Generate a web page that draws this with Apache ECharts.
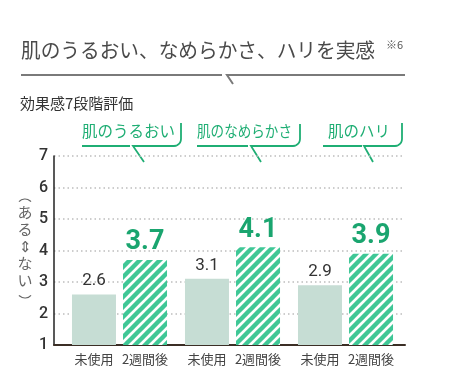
<!DOCTYPE html>
<html><head><meta charset="utf-8">
<script src="https://cdn.jsdelivr.net/npm/echarts@6/dist/echarts.min.js"></script>
<style>html,body{margin:0;padding:0;background:#fff}#c{width:450px;height:374px}</style>
</head><body><div id="c"></div>
<script>
const groups = ['肌のうるおい', '肌のなめらかさ', '肌のハリ'];
const periodLabels = ['未使用', '2週間後'];
const beforeValues = [2.6, 3.1, 2.9];
const afterValues = [3.7, 4.1, 3.9];
const yTicks = [1, 2, 3, 4, 5, 6, 7];
const titleText = '肌のうるおい、なめらかさ、ハリを実感';
const noteText = '※6';
const subtitleText = '効果感7段階評価';
const yNameChars = ['あ', 'る', '⇕', 'な', 'い'];

const JP = '"Noto Sans CJK JP", "Noto Sans", sans-serif';
const NUM = 'Roboto, "Noto Sans", sans-serif';
const GREEN = '#1fae74';
const STRIPE = '#3fc796';

// hatch pattern
const s = 10;
const tile = document.createElement('canvas');
tile.width = s; tile.height = s;
const tc = tile.getContext('2d');
tc.fillStyle = '#fff'; tc.fillRect(0, 0, s, s);
tc.strokeStyle = STRIPE; tc.lineWidth = 4.4; tc.lineCap = 'square';
[[-2, 2, 2, -2], [0, s, s, 0], [s - 2, s + 2, s + 2, s - 2]].forEach(l => {
  tc.beginPath(); tc.moveTo(l[0], l[1]); tc.lineTo(l[2], l[3]); tc.stroke();
});

const chart = echarts.init(document.getElementById('c'), null, {renderer: 'canvas'});

// bubble geometry: text x, text width, left line [x0,x1], tail tip, right start, corner x, top y
const bubbles = [
  {tx: 82, tw: 93, l0: 82, l1: 130, tip: [144, 162], r0: 133, cx: 181, top: 123},
  {tx: 197, tw: 95, l0: 197, l1: 248, tip: [261, 162], r0: 251, cx: 300, top: 124},
  {tx: 328, tw: 64, l0: 323, l1: 362, tip: [373, 162], r0: 364, cx: 402, top: 123}
];
const Y = 146, R = 7;
function cornerPts(cx) {
  const pts = [];
  for (let k = 0; k <= 6; k++) {
    const a = Math.PI / 2 * k / 6;
    pts.push([cx - R + R * Math.sin(a), Y - R + R * Math.cos(a)]);
  }
  return pts;
}
const lineStyle = (c, w) => ({stroke: c, lineWidth: w, fill: null});
const fsB = 15.5;

const graphics = [
  {type: 'text', x: 21, y: 50, scaleX: 354 / (titleText.length * 20), style: {text: titleText, font: '20px ' + JP, fill: '#4a4a4a', verticalAlign: 'middle'}},
  {type: 'text', x: 386, y: 45, style: {text: noteText, font: '11px ' + JP, fill: '#555', verticalAlign: 'middle'}},
  {type: 'polyline', shape: {points: [[21, 75], [222, 75]]}, style: lineStyle('#7a7a7a', 2)},
  {type: 'polyline', shape: {points: [[233, 84], [227, 75], [405, 75]]}, style: lineStyle('#7a7a7a', 2)},
  {type: 'text', x: 20, y: 103, style: {text: subtitleText, font: '15px ' + JP, fill: '#333', verticalAlign: 'middle'}},
  {type: 'text', x: 25, y: 204, style: {text: yNameChars.join('\n'), font: '15px ' + JP, fill: '#666', align: 'center', verticalAlign: 'top', lineHeight: 17}},
  {type: 'arc', shape: {cx: 25, cy: 207, r: 8, startAngle: 1.5 * Math.PI - 0.85, endAngle: 1.5 * Math.PI + 0.85}, style: lineStyle('#666', 1.2)},
  {type: 'arc', shape: {cx: 25, cy: 290, r: 8, startAngle: 0.5 * Math.PI - 0.85, endAngle: 0.5 * Math.PI + 0.85}, style: lineStyle('#666', 1.2)}
];
bubbles.forEach((b, i) => {
  const sx = Math.min(1, b.tw / (groups[i].length * fsB));
  graphics.push({type: 'text', x: b.tx, y: 131, scaleX: sx, style: {text: groups[i], font: fsB + 'px ' + JP, fill: GREEN, verticalAlign: 'middle'}});
  graphics.push({type: 'polyline', shape: {points: [[b.l0, Y], [b.l1, Y]]}, style: lineStyle(GREEN, 1.8)});
  graphics.push({type: 'polyline', shape: {points: [b.tip, [b.r0, Y]].concat(cornerPts(b.cx)).concat([[b.cx, b.top]])}, style: lineStyle(GREEN, 1.8)});
});

chart.setOption({
  animation: false,
  grid: [
    {left: 54, right: 45, top: 156, bottom: 29},
    {left: 63, right: 48, top: 156, bottom: 29}
  ],
  xAxis: [
    {gridIndex: 0, type: 'value', min: 0, max: 1, axisLine: {show: true, onZero: false, lineStyle: {color: '#3b2e25', width: 2}}, axisTick: {show: false}, axisLabel: {show: false}, splitLine: {show: false}},
    {gridIndex: 1, type: 'category', data: groups, axisLine: {show: false}, axisTick: {show: false},
      axisLabel: {interval: 0, margin: 8, formatter: () => '{a|' + periodLabels[0] + '}{b|' + periodLabels[1] + '}',
        rich: {a: {width: 51, align: 'center', fontSize: 13, fontFamily: JP, color: '#444'}, b: {width: 51, align: 'center', fontSize: 13, fontFamily: JP, color: '#444'}}}}
  ],
  yAxis: [
    {gridIndex: 0, type: 'value', min: yTicks[0], max: yTicks[yTicks.length - 1], interval: 1,
      axisLine: {show: true, onZero: false, lineStyle: {color: '#222', width: 1.5}}, axisTick: {show: false},
      axisLabel: {margin: 6, fontSize: 16, fontFamily: NUM, fontWeight: 500, color: '#333'},
      splitLine: {show: true, lineStyle: {color: '#bdbdbd', width: 1.5, type: [1.5, 3]}}},
    {gridIndex: 1, type: 'value', min: yTicks[0], max: yTicks[yTicks.length - 1], interval: 1, show: false}
  ],
  series: [
    {type: 'bar', xAxisIndex: 1, yAxisIndex: 1, data: beforeValues, barWidth: 44, barGap: '16%',
      itemStyle: {color: '#c6ddd4'},
      label: {show: true, position: 'top', distance: 5, fontSize: 17, fontFamily: NUM, color: '#333', formatter: p => p.value.toFixed(1)}},
    {type: 'bar', xAxisIndex: 1, yAxisIndex: 1, data: afterValues, barWidth: 44,
      itemStyle: {color: {image: tile, repeat: 'repeat'}},
      label: {show: true, position: 'top', distance: 4, fontSize: 27, fontWeight: 'bold', fontFamily: NUM, color: '#1aa56f', formatter: p => p.value.toFixed(1)}}
  ],
  graphic: graphics
});
</script></body></html>
